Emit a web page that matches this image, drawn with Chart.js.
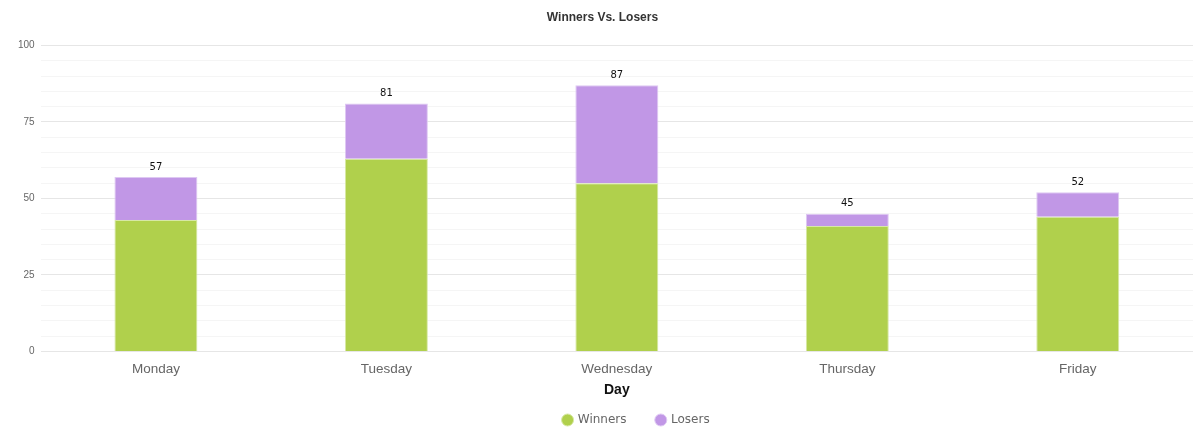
<!DOCTYPE html>
<html>
<head>
<meta charset="utf-8">
<script src="https://cdn.jsdelivr.net/npm/chart.js@4/dist/chart.umd.min.js"></script>
<style>
  body { margin: 0; background: #fff; }
  #wrap { width: 1201px; height: 448px; }
</style>
</head>
<body>
<div id="wrap"><canvas id="myChart"></canvas></div>
<script>
var days = ["Monday", "Tuesday", "Wednesday", "Thursday", "Friday"];
var winners = [43, 63, 55, 41, 44];
var losers = [14, 18, 32, 4, 8];
var yMajor = [0, 25, 50, 75, 100];

// draws the stack total above each bar
var totalLabels = {
  id: "totalLabels",
  afterDatasetsDraw: function (chart) {
    var ctx = chart.ctx;
    var top = chart.getDatasetMeta(1);
    ctx.save();
    ctx.font = "10px 'DejaVu Sans'";
    ctx.fillStyle = "#111";
    ctx.textAlign = "center";
    ctx.textBaseline = "bottom";
    for (var i = 0; i < days.length; i++) {
      var bar = top.data[i];
      ctx.fillText(winners[i] + losers[i], bar.x, bar.y - 5);
    }
    ctx.restore();
  }
};

// legend sits a bit right of centre in the original
var legendShift = {
  id: "legendShift",
  afterLayout: function (chart) {
    chart.legend.left += 68;
  }
};

function getChart() {
  var ctx = document.getElementById("myChart").getContext("2d");
  new Chart(ctx, {
    type: "bar",
    data: {
      labels: days,
      datasets: [{
        label: "Winners",
        data: winners,
        backgroundColor: "rgb(176, 208, 76)",
        borderColor: "rgba(215, 232, 165, 1)",
        borderWidth: 1
      }, {
        label: "Losers",
        data: losers,
        backgroundColor: "rgb(193, 151, 230)",
        borderColor: "rgba(222, 200, 242, 1)",
        borderWidth: 1
      }]
    },
    options: {
      responsive: true,
      maintainAspectRatio: false,
      animation: false,
      layout: { padding: { left: 12, right: 8, top: 4, bottom: 12 } },
      datasets: { bar: { categoryPercentage: 1, barPercentage: 0.36 } },
      plugins: {
        title: {
          display: true,
          text: "Winners Vs. Losers",
          color: "#333",
          font: { family: "'Liberation Sans'", size: 12, weight: "bold" },
          padding: { top: 6, bottom: 21 }
        },
        legend: {
          position: "bottom",
          labels: {
            usePointStyle: true,
            pointStyle: "circle",
            boxWidth: 8.5,
            boxHeight: 8.5,
            padding: 30,
            color: "#666",
            font: { family: "'DejaVu Sans'", size: 12 }
          }
        },
        tooltip: { enabled: false }
      },
      scales: {
        x: {
          stacked: true,
          grid: { display: false },
          border: { display: false },
          ticks: { color: "#666", font: { family: "'Liberation Sans'", size: 13.5, lineHeight: 1 }, padding: 3 },
          title: {
            display: true,
            text: "Day",
            color: "#111",
            font: { family: "'Liberation Sans'", size: 14, weight: "bold", lineHeight: 1 },
            padding: { top: 4, bottom: -13 }
          }
        },
        y: {
          stacked: true,
          min: 0,
          max: 100,
          border: { display: false },
          ticks: {
            stepSize: 5,
            autoSkip: false,
            color: "#666",
            font: { family: "'Liberation Sans'", size: 10 },
            padding: 6,
            callback: function (v) { return yMajor.indexOf(v) >= 0 ? v : ""; }
          },
          grid: {
            drawTicks: false,
            color: function (c) {
              return yMajor.indexOf(c.tick.value) >= 0 ? "#e6e6e6" : "#f5f5f5";
            }
          }
        }
      }
    },
    plugins: [totalLabels, legendShift]
  });
}

getChart();
</script>
</body>
</html>
